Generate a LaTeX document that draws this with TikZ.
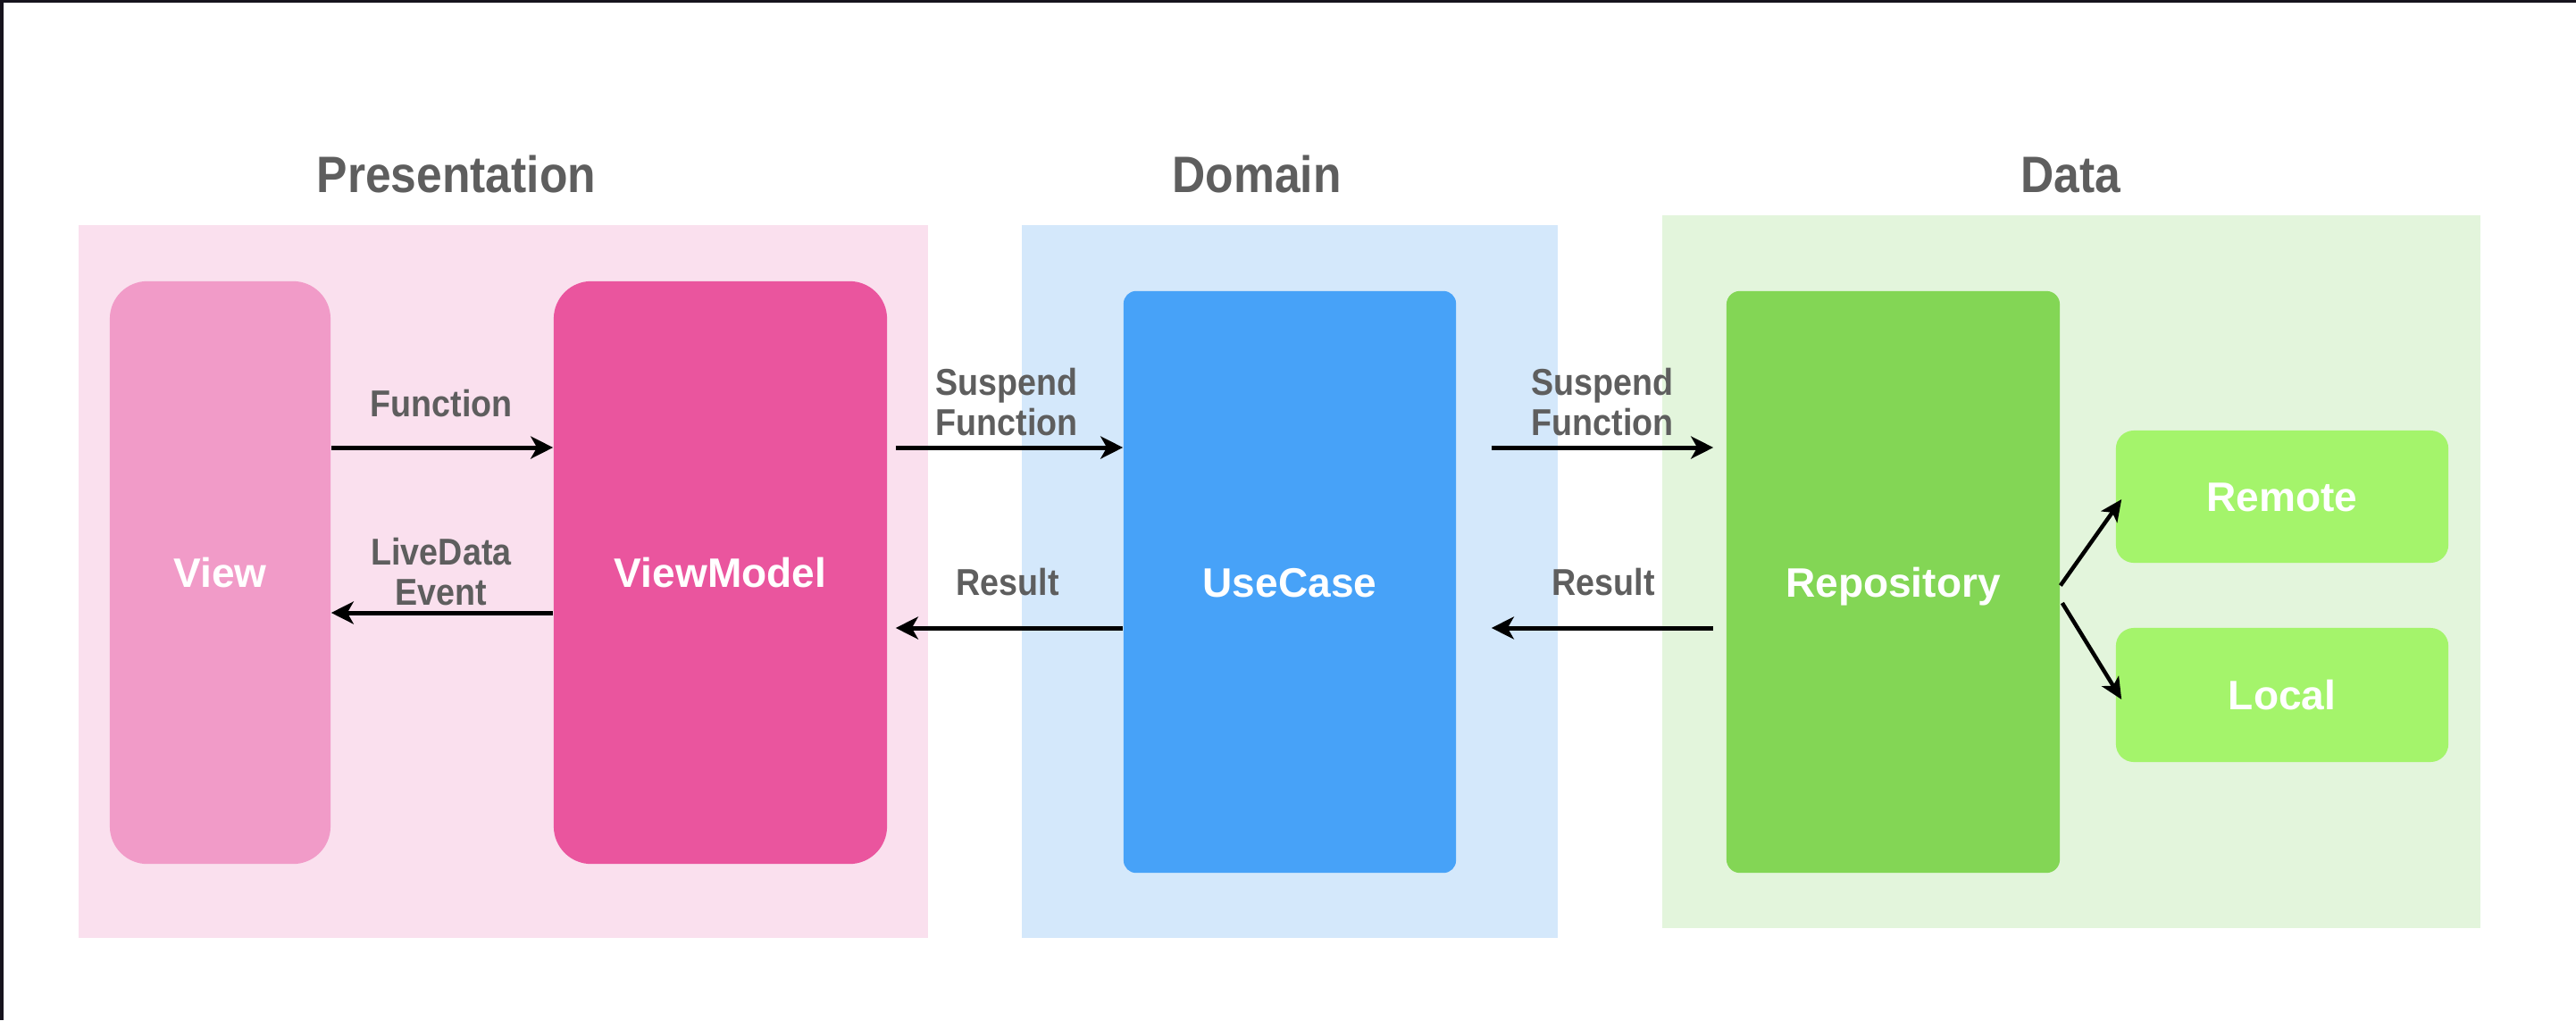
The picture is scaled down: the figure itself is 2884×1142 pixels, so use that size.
\documentclass[tikz,border=0pt]{standalone}
\usepackage{fontspec}
\newfontfamily\grayfont[FakeStretch=0.9]{Liberation Sans}
\newfontfamily\boxfont{Liberation Sans}
\usetikzlibrary{arrows.meta}
\definecolor{frameclr}{HTML}{16131D}
\definecolor{presbg}{HTML}{FAE0EE}
\definecolor{viewclr}{HTML}{F19BC8}
\definecolor{vmclr}{HTML}{EA559E}
\definecolor{dombg}{HTML}{D4E8FB}
\definecolor{ucclr}{HTML}{47A2F8}
\definecolor{databg}{HTML}{E3F5DC}
\definecolor{repoclr}{HTML}{83D655}
\definecolor{srcclr}{HTML}{A4F46B}
\definecolor{txtgray}{HTML}{5E5E5E}
\begin{document}
\begin{tikzpicture}[x=0.01cm,y=-0.01cm,
  layer/.style={inner sep=0pt, draw=none},
  box/.style={inner sep=0pt, draw=none, text=white,
    font={\boxfont\bfseries\fontsize{13.1}{15}\selectfont},
    text height=0.33cm, text depth=0pt},
  title/.style={inner sep=0pt, anchor=base, text=txtgray,
    font={\grayfont\bfseries\fontsize{16.3}{19}\selectfont}},
  lbl/.style={inner sep=0pt, text=txtgray, align=center,
    font={\grayfont\bfseries\fontsize{11.9}{12.8}\selectfont}},
  arr/.style={-{Stealth[length=0.25cm,width=0.25cm,inset=0.07cm]}, line width=0.05cm},
  darr/.style={-{Stealth[length=0.24cm,width=0.22cm,inset=0.06cm]}, line width=0.045cm}
]
\useasboundingbox (0,0) rectangle (2884,1142);
\fill[white] (0,0) rectangle (2884,1142);
\fill[frameclr] (0,0) rectangle (2884,3);
\fill[frameclr] (0,0) rectangle (4,1142);

% layers
\node[layer, fill=presbg, minimum width=9.51cm, minimum height=7.98cm] (pres) at (563.5,651) {};
\node[layer, fill=dombg, minimum width=6.00cm, minimum height=7.98cm] (dom) at (1444,651) {};
\node[layer, fill=databg, minimum width=9.16cm, minimum height=7.98cm] (data) at (2319,640) {};

% titles
\node[title] (tpres) at (511,215) {Presentation};
\node[title] (tdom) at (1407,215) {Domain};
\node[title] (tdata) at (2318,215) {Data};

% boxes
\node[box, fill=viewclr, rounded corners=0.42cm, minimum width=2.47cm, minimum height=6.52cm] (view) at (246.5,641) {View};
\node[box, fill=vmclr, rounded corners=0.42cm, minimum width=3.73cm, minimum height=6.52cm] (vm) at (806.5,641) {ViewModel};
\node[box, fill=ucclr, rounded corners=0.14cm, minimum width=3.72cm, minimum height=6.51cm] (uc) at (1444,651.5) {UseCase};
\node[box, fill=repoclr, rounded corners=0.15cm, minimum width=3.73cm, minimum height=6.51cm] (repo) at (2119.5,651.5) {Repository};
\node[box, fill=srcclr, rounded corners=0.2cm, minimum width=3.72cm, minimum height=1.48cm] (remote) at (2555,556) {Remote};
\node[box, fill=srcclr, rounded corners=0.2cm, minimum width=3.72cm, minimum height=1.50cm] (local) at (2555,778) {Local};

% arrow heights
\coordinate (ya) at (0,501);
\coordinate (yb) at (0,686);
\coordinate (yc) at (0,703);

% connectors
\draw[arr] (view.east |- ya) -- (vm.west |- ya);
\draw[arr] (vm.west |- yb) -- (view.east |- yb);
\draw[arr, shorten <=0.09cm] (vm.east |- ya) -- (uc.west |- ya);
\draw[arr, shorten >=0.09cm] (uc.west |- yc) -- (vm.east |- yc);
\draw[arr, shorten <=0.39cm, shorten >=0.14cm] (uc.east |- ya) -- (repo.west |- ya);
\draw[arr, shorten <=0.14cm, shorten >=0.39cm] (repo.west |- yc) -- (uc.east |- yc);
\draw[darr] ([yshift=-0.04cm]repo.east) -- ([xshift=0.07cm,yshift=-0.03cm]remote.west);
\draw[darr] ([xshift=0.02cm,yshift=-0.235cm]repo.east) -- ([xshift=0.07cm,yshift=-0.05cm]local.west);

% labels
\node[lbl, anchor=base] (lfun) at (494,466) {Function};
\node[lbl] (llive) at (494,640) {LiveData\\Event};
\node[lbl] (lsus1) at (1127,450.5) {Suspend\\Function};
\node[lbl, anchor=base] (lres1) at (1128,666) {Result};
\node[lbl] (lsus2) at (1794,450.5) {Suspend\\Function};
\node[lbl, anchor=base] (lres2) at (1795,666) {Result};
\end{tikzpicture}
\end{document}
